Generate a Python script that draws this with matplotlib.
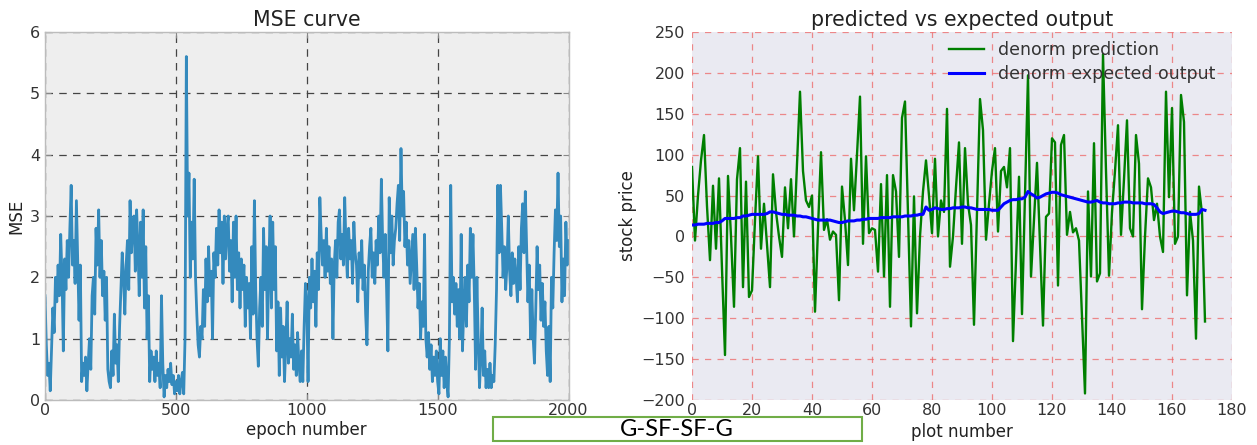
import matplotlib
matplotlib.use("Agg")
import matplotlib.pyplot as plt
from matplotlib.patches import Rectangle

# ---------------- data ----------------
mse_epochs = list(range(0, 2001, 5))
mse_values = [
    # 0-95
    1.7, 0.9, 0.4, 0.6, 0.15, 0.8, 1.5, 1.1, 2.0, 1.6, 2.2, 1.7, 2.7, 2.0, 0.8, 2.3, 1.8, 2.6, 2.0, 2.8,
    # 100-195
    3.5, 2.2, 2.6, 1.9, 3.25, 2.3, 1.3, 2.2, 0.3, 0.6, 0.4, 0.7, 0.15, 0.6, 1.0, 0.5, 1.7, 2.0, 1.4, 2.8,
    # 200-295
    2.2, 3.1, 2.0, 2.6, 1.7, 2.1, 1.3, 2.0, 0.5, 0.3, 0.2, 0.8, 0.4, 1.4, 0.6, 0.9, 0.3, 1.2, 1.8, 2.4,
    # 300-395
    2.0, 1.4, 2.2, 2.6, 1.8, 3.25, 2.4, 2.8, 3.0, 2.1, 3.1, 2.5, 1.7, 2.9, 2.0, 3.1, 1.5, 2.5, 1.0, 1.7,
    # 400-495
    0.3, 0.8, 0.5, 0.7, 0.3, 0.8, 0.4, 0.6, 0.2, 1.7, 0.6, 0.05, 0.4, 0.2, 0.5, 0.3, 0.6, 0.25, 0.4, 0.1,
    # 500-595
    0.3, 0.15, 0.4, 0.1, 0.3, 0.45, 0.1, 1.0, 5.6, 3.0, 3.7, 2.0, 2.9, 2.3, 3.6, 2.0, 1.4, 0.9, 0.7, 1.2,
    # 600-695
    1.0, 1.8, 1.2, 2.3, 1.6, 2.5, 1.7, 2.1, 1.0, 2.4, 2.0, 2.8, 2.2, 3.1, 2.4, 2.9, 1.9, 3.0, 2.3, 2.8,
    # 700-795
    3.0, 2.1, 2.6, 1.6, 2.9, 2.0, 3.0, 1.8, 2.4, 1.5, 2.3, 1.8, 2.2, 1.2, 2.0, 1.5, 1.9, 1.0, 2.5, 1.4,
    # 800-895
    3.25, 1.8, 1.0, 0.55, 1.5, 2.0, 1.2, 2.8, 1.8, 2.5, 1.0, 2.2, 3.0, 1.5, 2.9, 1.8, 2.5, 0.8, 1.6, 0.4,
    # 900-995
    1.5, 0.7, 1.2, 0.3, 0.9, 1.6, 0.6, 1.0, 0.7, 1.4, 0.5, 0.9, 0.4, 1.1, 0.6, 0.3, 0.8, 0.3, 1.2, 1.9,
    # 1000-1095
    1.6, 0.3, 2.0, 1.5, 2.3, 1.6, 2.1, 1.2, 2.4, 1.8, 3.3, 2.7, 2.2, 2.6, 2.0, 2.8, 2.1, 2.5, 1.9, 2.3,
    # 1100-1195
    1.0, 2.2, 2.6, 2.0, 2.9, 3.1, 2.3, 2.7, 2.2, 3.3, 2.5, 2.0, 2.8, 2.3, 2.6, 1.9, 2.9, 2.4, 2.2, 1.6,
    # 1200-1295
    2.4, 2.0, 2.6, 1.8, 2.2, 1.4, 0.9, 2.1, 2.5, 2.8, 2.0, 2.4, 1.9, 2.6, 2.2, 3.0, 2.4, 3.6, 2.6, 2.0,
    # 1300-1395
    2.7, 1.8, 0.8, 3.3, 2.4, 3.0, 2.2, 2.6, 2.8, 3.2, 3.5, 2.6, 4.1, 3.0, 3.4, 2.5, 2.9, 2.2, 2.6, 1.9,
    # 1400-1495
    2.3, 2.7, 1.8, 2.8, 2.2, 1.5, 1.9, 1.0, 1.6, 1.2, 2.7, 1.0, 0.7, 1.1, 0.5, 0.9, 0.3, 0.7, 0.4, 0.8,
    # 1500-1595
    0.3, 0.1, 1.0, 0.4, 0.8, 0.2, 0.7, 0.3, 0.05, 1.0, 3.5, 1.6, 2.0, 1.4, 1.9, 1.2, 1.8, 1.0, 2.7, 0.8,
    # 1600-1695
    1.5, 2.0, 1.2, 2.2, 1.6, 2.8, 2.0, 2.7, 1.8, 0.5, 2.0, 1.0, 0.2, 0.7, 1.5, 0.4, 0.8, 0.2, 0.5, 0.2,
    # 1700-1795
    0.6, 0.2, 0.4, 0.3, 0.9, 1.8, 3.5, 2.4, 3.5, 2.8, 2.0, 2.5, 1.8, 2.2, 3.0, 2.1, 1.7, 2.4, 1.9, 2.3,
    # 1800-1895
    2.0, 1.6, 2.5, 1.8, 2.8, 3.2, 2.4, 3.4, 2.5, 1.6, 2.2, 1.0, 1.8, 1.0, 0.6, 1.5, 2.5, 1.8, 2.2, 1.3,
    # 1900-2000
    1.9, 1.2, 1.6, 0.8, 0.4, 1.2, 0.3, 2.0, 1.5, 2.4, 3.1, 2.6, 3.7, 2.5, 3.0, 1.6, 2.3, 1.7, 2.9, 2.2, 2.6,
]

pred_values = [
    85, -5, 50, 93, 124, 37, -29, 62, -15, 71,
    -40, -145, 74, 0, -86, 70, 108, -62, 67, -74,
    -66, 20, 98, -15, 40, -10, -62, 76, 30, 0,
    -25, 60, 10, 70, 0, 90, 177, 80, 44, 36,
    50, -92, 10, 103, 8, 21, -4, 6, 2, -78,
    61, 20, -35, 95, 32, 100, 171, -9, 98, 4,
    10, 8, -43, 64, -49, 75, -86, 75, 55, -25,
    145, 165, 30, -110, 49, -94, 0, 55, 93, 50,
    4, 95, 0, 44, 30, 156, -37, 0, 60, 115,
    -9, 108, 40, 14, -108, 30, 168, 130, -4, 40,
    80, 108, 6, 80, 85, 60, 108, -128, -30, 73,
    -95, 50, 197, -49, 20, 90, -10, -109, 24, 28,
    120, 115, -60, 112, 124, 2, 30, 5, 10, -5,
    -100, -192, 55, -49, 114, -55, -45, 223, 80, -48,
    30, 80, 136, 2, 70, 142, 10, 0, 124, 89,
    -89, 0, 71, 60, 20, 40, 0, -19, 177, 48,
    157, -9, 0, 173, 140, -72, 30, -5, -125, 61,
    28, -104,
]

expected_values = [
    14, 14, 15, 15, 15, 16, 16, 16, 17, 17,
    19, 22, 22, 22, 22, 23, 23, 25, 25, 26,
    27, 27, 27, 27, 27, 28, 30, 30, 29, 28,
    27, 27, 26, 26, 26, 25, 25, 24, 24, 23,
    22, 21, 20, 20, 20, 20, 20, 19, 18, 17,
    17, 18, 19, 19, 19, 20, 20, 21, 21, 22,
    22, 22, 22, 23, 23, 23, 23, 24, 24, 24,
    24, 25, 25, 25, 26, 26, 27, 27, 36, 32,
    33, 35, 34, 33, 33, 34, 34, 35, 35, 35,
    36, 36, 35, 35, 34, 33, 33, 33, 33, 33,
    32, 32, 32, 36, 40, 42, 44, 45, 45, 46,
    46, 48, 55, 52, 50, 47, 48, 50, 52, 53,
    54, 54, 53, 51, 50, 49, 48, 47, 46, 45,
    44, 43, 42, 42, 43, 44, 42, 41, 41, 40,
    40, 40, 41, 41, 42, 42, 42, 41, 41, 41,
    41, 40, 40, 40, 39, 35, 30, 28, 29, 30,
    31, 31, 30, 29, 29, 28, 27, 27, 27, 28,
    33, 32,
]
plot_numbers = list(range(len(pred_values)))

left_xticks = [0, 500, 1000, 1500, 2000]
left_yticks = [0, 1, 2, 3, 4, 5, 6]
right_xticks = [0, 20, 40, 60, 80, 100, 120, 140, 160, 180]
right_yticks = [-200, -150, -100, -50, 0, 50, 100, 150, 200, 250]
caption = "G-SF-SF-G"

# ---------------- figure ----------------
plt.rcParams['font.family'] = ['DejaVu Sans']
W, H = 1257, 445
fig = plt.figure(figsize=(W / 100, H / 100), dpi=100)
fig.patch.set_facecolor('white')

def frac(x0, y0, x1, y1):
    return [x0 / W, 1 - y1 / H, (x1 - x0) / W, (y1 - y0) / H]

TICK_FS = 11.5
LABEL_FS = 12
TITLE_FS = 14.8

# Left: MSE curve
ax1 = fig.add_axes(frac(45, 32, 568.5, 400))
ax1.set_facecolor('#EEEEEE')
ax1.plot(mse_epochs, mse_values, color='#348ABD', linewidth=2.0)
ax1.set_xlim(0, 2000)
ax1.set_ylim(0, 6)
ax1.set_xticks(left_xticks)
ax1.set_yticks(left_yticks)
ax1.grid(True, color='#444444', linestyle=(0, (6, 5)), linewidth=0.9)
ax1.set_axisbelow(True)
for s in ax1.spines.values():
    s.set_color('#BCBCBC')
    s.set_linewidth(1.0)
ax1.tick_params(direction='in', length=4, color='#888888', labelcolor='#333333',
                labelsize=TICK_FS, top=True, right=True)
ax1.tick_params(axis='x', pad=2)
ax1.set_title('MSE curve', fontsize=TITLE_FS, color='#222222', pad=4)
ax1.set_xlabel('epoch number', fontsize=LABEL_FS, color='#222222', labelpad=2)
ax1.set_ylabel('MSE', fontsize=LABEL_FS, color='#222222', labelpad=3)

# Right: predicted vs expected
ax2 = fig.add_axes(frac(692, 32, 1232, 400))
ax2.set_facecolor('#EAEAF2')
ax2.plot(plot_numbers, pred_values, color='#007F00', linewidth=1.7, label='denorm prediction')
ax2.plot(plot_numbers, expected_values, color='#0000FF', linewidth=2.2, label='denorm expected output')
ax2.set_xlim(0, 180)
ax2.set_ylim(-200, 250)
ax2.set_xticks(right_xticks)
ax2.set_yticks(right_yticks)
ax2.grid(True, color='#EE6666', linestyle=(0, (5, 5)), linewidth=0.9, alpha=0.75)
ax2.set_axisbelow(True)
for s in ax2.spines.values():
    s.set_visible(False)
ax2.tick_params(length=0, labelcolor='#333333', labelsize=TICK_FS, pad=5)
ax2.tick_params(axis='x', pad=2)
ax2.set_title('predicted vs expected output', fontsize=TITLE_FS, color='#222222', pad=4)
ax2.set_xlabel('plot number', fontsize=LABEL_FS, color='#222222', labelpad=4)
ax2.set_ylabel('stock price', fontsize=LABEL_FS, color='#222222', labelpad=3)
leg = ax2.legend(loc='upper right', bbox_to_anchor=(0.995, 1.012), frameon=False,
                 fontsize=12.5, handlelength=2.0, handletextpad=0.8, labelspacing=0.3,
                 borderpad=0.3)
for t in leg.get_texts():
    t.set_color('#333333')

# caption box
fig.patches.append(Rectangle((493 / W, 1 - 441 / H), (862 - 493) / W, 24 / H,
                             transform=fig.transFigure, facecolor='white',
                             edgecolor='#70AD47', linewidth=1.5, zorder=5))
fig.text(677 / W, 1 - 429 / H, caption, ha='center', va='center', fontsize=17,
         family=['Lato', 'DejaVu Sans'], color='black', zorder=6)

fig.savefig('out.png', dpi=100)
